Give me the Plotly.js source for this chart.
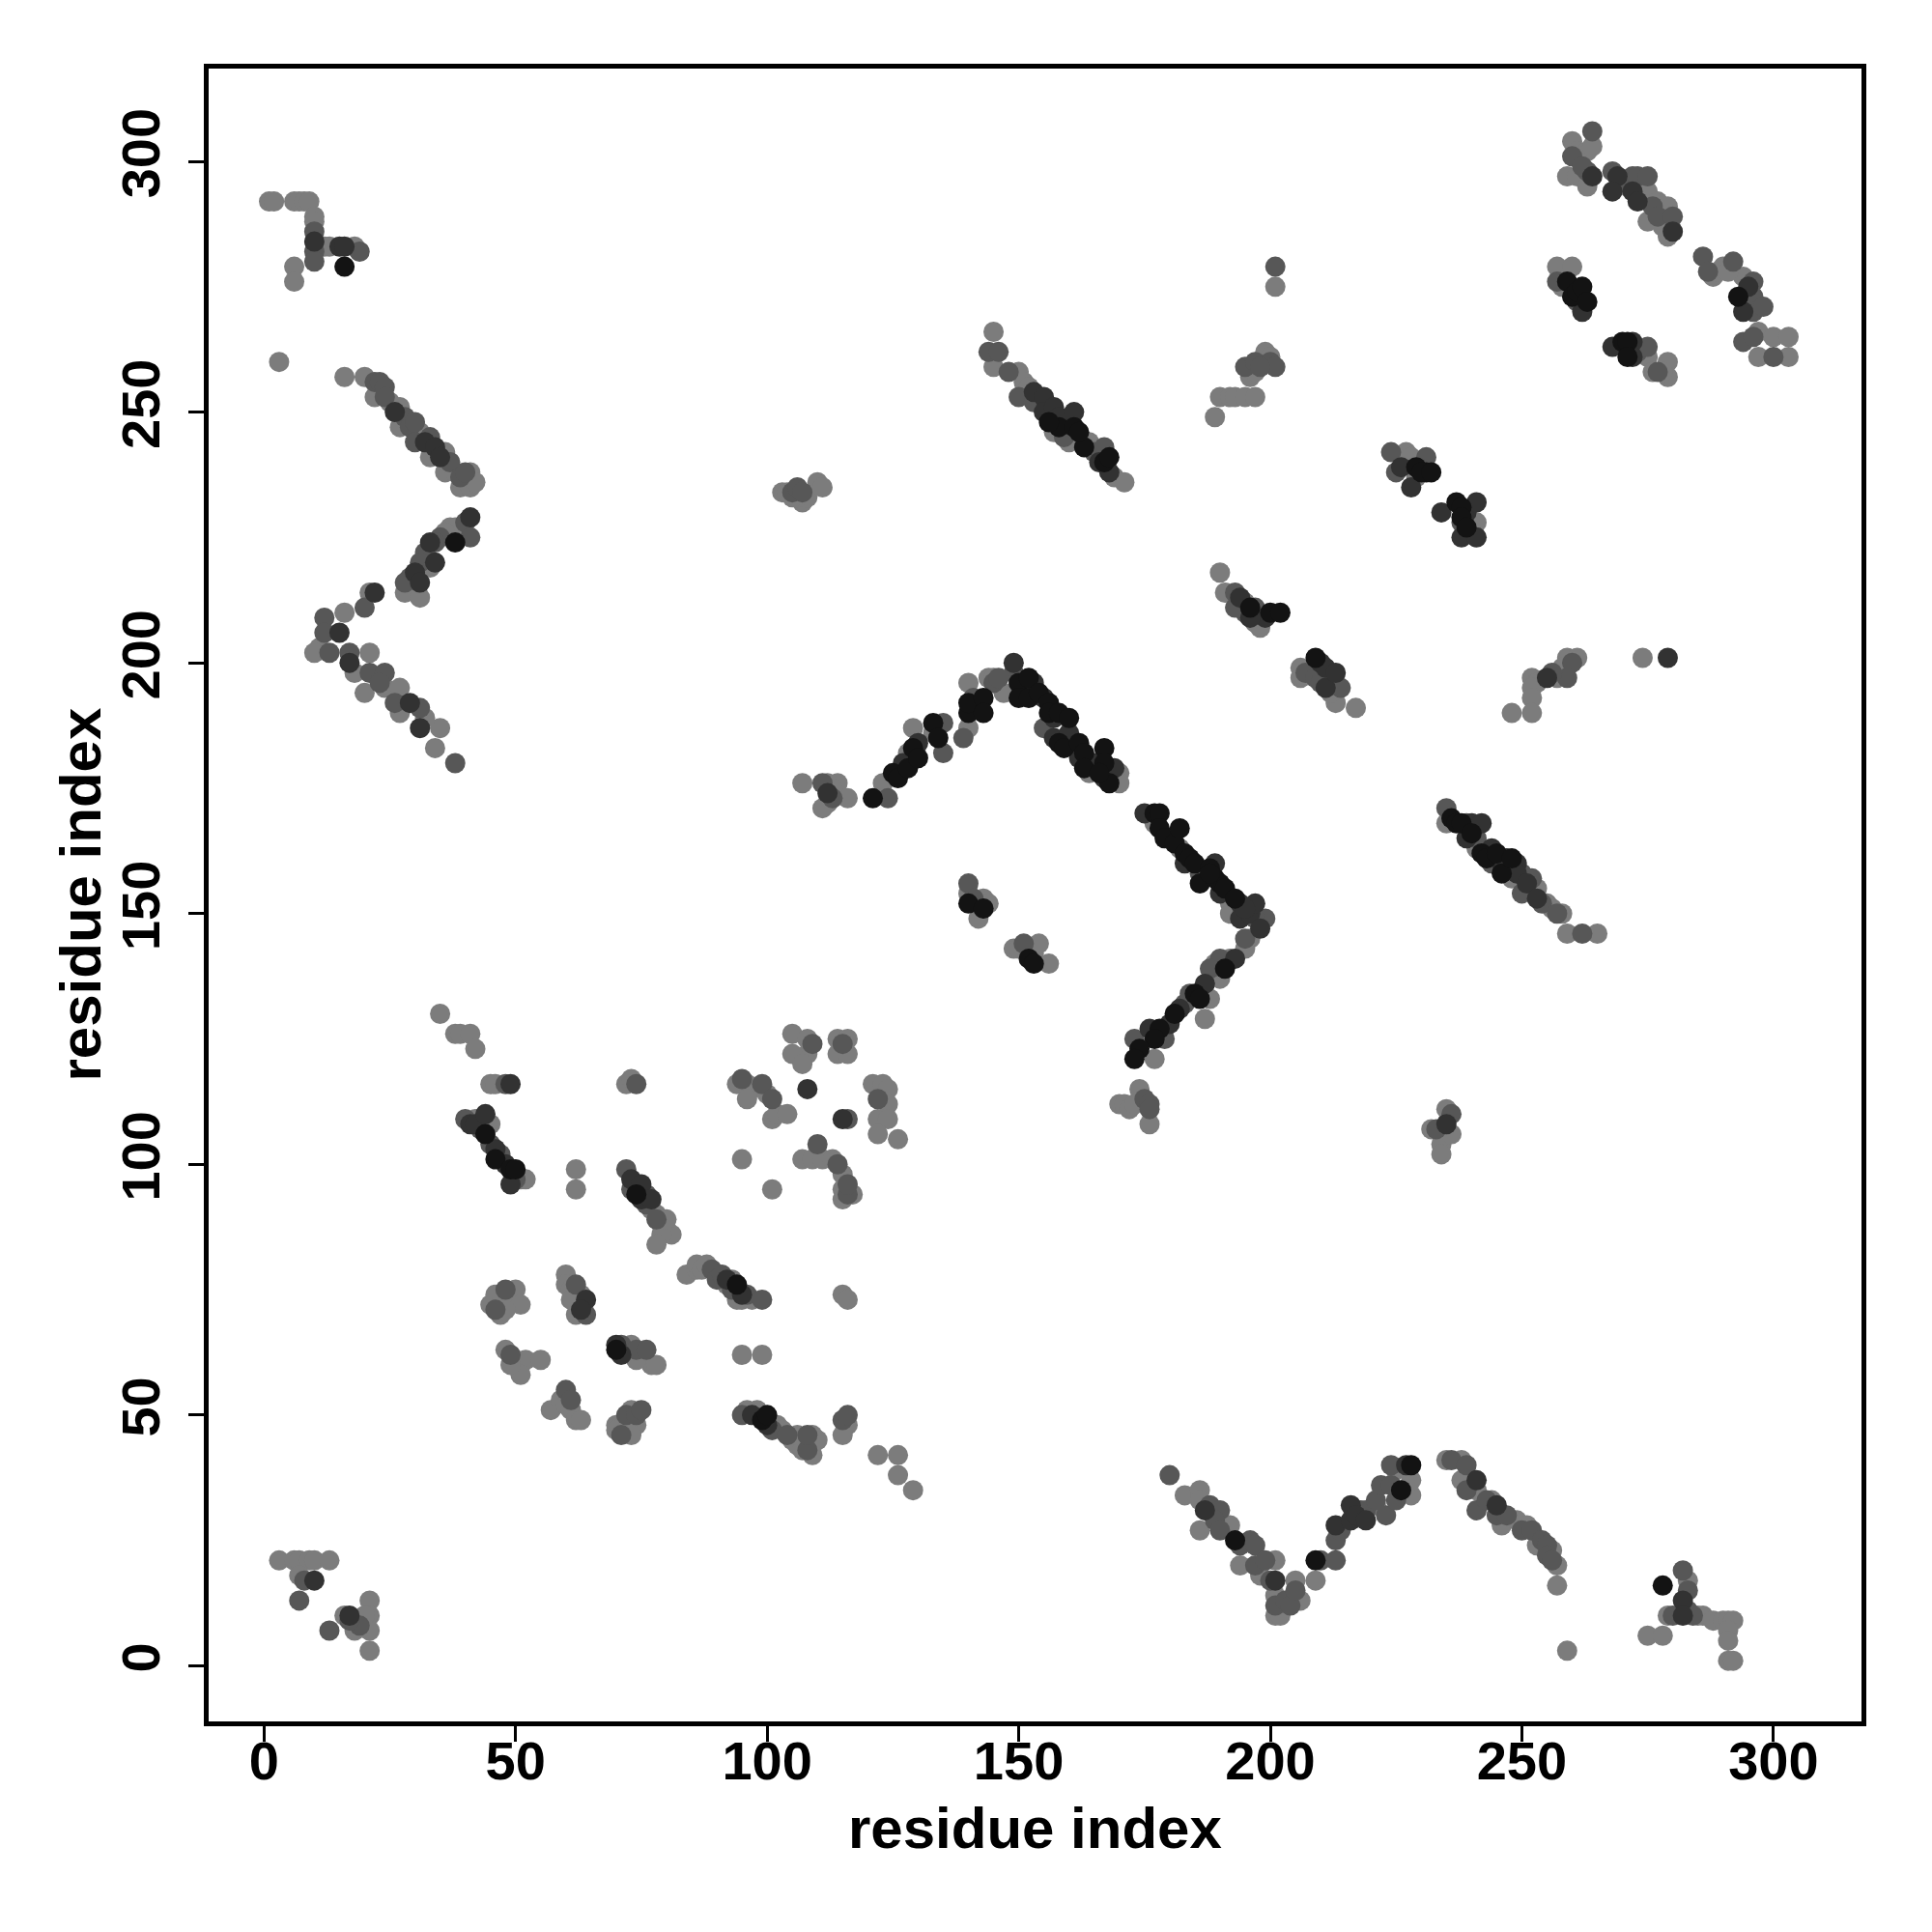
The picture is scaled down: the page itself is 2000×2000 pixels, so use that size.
<!DOCTYPE html>
<html>
<head>
<meta charset="utf-8">
<script src="https://cdn.plot.ly/plotly-3.0.1.min.js"></script>
<style>html,body{margin:0;padding:0;background:#fff;}</style>
</head>
<body>
<div id="chart" style="width:2000px;height:2000px;"></div>
<script>
// Contact map: residue index pairs, grouped by gray level of the dot
const lightPts = [
[1,292],[2,292],[6,292],[7,292],[8,292],[9,292],[10,289],[10,288],[12,283],[13,283],[18,283],[6,279],[6,276],[3,260],
[20,257],[22,253],[25,252],[27,251],[27,247],[31,246],[33,241],[36,242],[36,238],[38,238],[41,238],[39,235],[41,235],[42,236],[16,257],
[38,227],[37,227],[36,226],[33,219],[28,214],[31,213],
[21,214],[16,210],[11,203],[10,202],[21,202],[24,195],[20,194],[27,195],[27,190],[35,187],[34,183],[18,198],[32,189],
[35,130],[38,126],[39,126],[41,126],[42,123],[45,116],[46,116],[51,97],[52,97],[42,109],[45,108],
[45,72],[46,74],[47,72],[49,74],[50,75],[51,72],[47,70],[48,71],
[48,63],[50,61],[51,60],[52,61],[55,61],[51,58],[49,60],
[57,51],[59,53],[60,52],[61,51],[62,49],[63,49],
[60,78],[60,76],[61,75],[63,74],[62,70],[61,73],[62,99],[62,95],
[72,63],[73,64],[75,62],[77,60],[78,60],[74,61],
[70,48],[70,47],[72,47],[73,51],[74,48],[73,46],
[72,116],[73,117],
[77,91],[78,90],[79,88],[80,87],[81,86],[79,86],[78,84],[80,89],
[84,78],[86,79],[86,80],[87,79],[88,80],[90,78],[92,76],[95,73],[97,73],[94,73],[93,77],
[95,62],[99,62],
[96,51],[98,51],[102,48],[103,47],[105,45],[106,44],[107,43],[109,42],[109,46],[106,46],[110,45],
[116,48],[115,46],[115,74],[116,73],[122,42],[126,42],[126,38],[129,35],
[94,116],[96,116],[97,115],[96,113],[100,114],[101,109],[102,110],[104,110],[95,101],[101,95],[105,126],[108,125],[108,122],[105,122],[107,120],[114,125],[116,125],[114,122],[116,122],[107,101],[109,101],[111,101],[113,101],[115,98],[115,95],[115,93],[121,116],[123,116],[124,115],[124,112],[122,109],[124,109],[122,106],[126,105],[117,94],
[3,21],[6,21],[7,21],[9,21],[10,21],[13,21],[7,18],[16,10],[18,7],[21,13],[21,10],[21,7],[21,3],[20,10],
[103,234],[104,234],[107,232],[108,233],[110,236],[111,235],[106,233],[105,233],
[107,176],[112,176],[114,176],[112,172],[111,171],[116,173],[113,175],
[123,176],[128,182],[129,187],[133,186],[140,187],[144,197],[149,194],[147,194],[140,196],[145,197],
[161,183],[164,178],[170,178],[170,176],
[177,168],[182,163],[192,152],[192,150],
[196,145],[195,143],[192,141],[189,140],[188,133],[187,129],[177,121],[190,137],
[170,112],[171,112],[172,111],[174,115],[176,108],[173,112],
[140,154],[143,153],[142,149],[144,152],
[149,143],[150,143],[153,142],[154,144],[156,140],
[145,266],[145,259],[150,258],[151,256],[160,244],[164,244],[169,237],[171,236],[152,255],[157,246],
[189,249],[190,253],[192,253],[193,253],[195,253],[197,253],[196,257],[197,258],[199,262],[200,261],[201,275],
[190,218],[191,214],[195,212],[197,208],[198,207],
[206,199],[206,197],[213,192],[217,191],[212,194],
[227,242],[228,241],[229,237],
[241,228],
[259,201],[261,201],[258,199],[257,197],[252,197],[253,196],[252,195],[252,193],[252,190],[248,190],[274,201],
[235,168],[241,163],[253,155],[255,152],[256,151],[258,150],[259,146],[265,146],[248,157],
[232,107],[234,106],[234,104],[234,102],[235,111],[236,106],
[183,34],[186,35],[186,33],[186,27],[192,28],[194,20],[198,18],[201,21],[201,14],[201,10],[202,10],[205,17],[206,13],
[209,17],[221,32],[225,39],[228,34],[228,37],
[235,41],[238,41],[238,37],[240,37],[241,35],[244,33],[246,28],[249,29],[251,28],[253,24],[257,20],[257,16],[256,23],
[283,17],[279,10],[285,10],[286,10],[288,9],[290,9],[291,9],[292,9],[291,7],[291,5],[291,1],[292,1],[275,6],[278,6],[259,3],
[260,304],[261,302],[263,302],[264,303],[259,297],[261,297],[263,295],
[275,294],[277,292],[279,291],[275,288],[279,285],[278,287],[271,295],
[288,277],[289,278],[290,279],[294,277],[297,266],[300,265],[303,265],[297,261],[303,261],[291,278],[295,272],
[257,279],[260,279],[258,275],
[275,261],[276,258],[279,260],[279,257],[278,258]
];
const midPts = [
[10,286],[10,282],[10,280],[19,282],
[22,256],[23,256],[24,255],[24,253],[28,249],[29,247],[30,248],[30,244],[33,245],[37,240],[39,237],[40,238],
[40,228],[41,225],[35,225],[34,224],[32,222],[31,220],[29,217],[28,216],
[20,211],[12,209],[12,206],[13,202],[17,202],[21,198],[24,198],[31,191],[38,180],[23,196],[26,192],
[48,116],[40,109],[43,107],[45,104],[47,102],[50,97],
[46,71],[48,75],[49,62],[60,55],[61,53],[62,76],[64,70],
[71,64],[74,63],[76,63],[71,46],[72,50],[74,50],[75,51],[74,116],
[72,99],[73,95],[76,92],[78,89],[76,94],
[89,79],[90,77],[91,78],[93,75],[96,74],[99,73],
[95,50],[101,47],[104,46],[108,43],[108,46],[115,49],[116,50],
[95,117],[99,116],[101,113],[109,124],[115,124],[110,104],[114,100],[116,94],[116,96],[116,109],[122,113],
[8,17],[7,13],[13,7],[19,8],[17,9],
[105,234],[106,235],[107,234],[111,176],[113,173],
[124,173],[135,188],[135,182],[139,185],[141,193],[145,196],[149,198],[146,197],
[155,187],[186,158],[199,149],
[190,141],[188,139],[179,125],[173,125],[183,132],[184,134],[197,149],[195,145],
[175,113],[176,112],[176,111],[140,156],[141,153],[151,144],
[144,262],[146,262],[148,258],[150,253],[153,252],[159,245],[165,242],[167,243],
[195,259],[197,260],[200,260],[201,259],[198,259],[201,279],
[193,214],[195,210],[197,211],[193,211],
[207,198],[209,197],[210,196],[212,197],[214,195],
[224,242],[225,238],[231,241],[238,228],
[260,200],[259,197],[256,198],
[235,171],[239,168],[241,165],[250,158],[252,157],[254,152],[257,150],[262,146],[244,160],[250,154],
[233,107],[236,110],
[180,38],[188,32],[190,31],[189,29],[190,27],[194,24],[196,25],[197,24],[197,20],[199,21],[200,17],[201,12],[203,13],[204,12],[205,15],
[210,21],[213,21],[213,25],[214,27],[218,31],[219,31],[221,33],[222,36],[224,36],[223,30],[224,40],[225,33],
[236,41],[239,40],[239,35],[241,31],[243,33],[245,30],[247,30],[250,27],[252,27],[254,25],[255,24],[255,22],[256,21],
[282,19],[283,15],[280,10],[283,11],[284,10],
[264,306],[260,301],[263,298],[262,299],
[268,298],[270,296],[272,297],[273,297],[275,297],[276,291],[277,289],[280,289],
[286,281],[287,278],[292,280],[296,276],[296,273],[296,270],[298,271],[294,264],[296,265],[300,261],
[257,276],[261,272],[273,262],[275,263],[277,258]
];
const darkPts = [
[10,284],[15,283],[16,283],
[26,250],[32,244],[34,243],[35,241],
[41,229],[33,224],[34,220],[30,218],[31,216],
[22,214],[17,200],[31,187],[15,206],[29,192],
[49,116],[41,108],[42,108],[44,110],[46,103],[48,100],[49,96],
[64,73],[63,71],[70,64],[71,62],
[73,97],[75,96],[75,93],[77,93],[92,77],[95,74],
[97,50],[100,48],[108,115],[115,109],
[10,17],[17,10],[112,174],
[127,180],[130,184],[149,200],
[153,196],[155,193],[157,189],[157,185],[162,181],[165,180],[167,177],[169,179],[160,186],
[175,170],[180,165],[183,160],[189,160],[190,154],[194,152],[194,149],[196,150],[197,152],[195,151],
[193,141],[187,136],[182,131],[180,128],[176,127],[198,147],
[153,254],[155,253],[155,250],[157,251],[158,249],[161,250],[168,238],[166,240],
[194,213],[199,209],[196,209],
[210,200],[211,199],[211,195],[213,198],
[226,239],[228,235],
[234,230],[238,225],[239,230],[241,232],[241,225],
[255,197],[279,201],
[240,168],[242,168],[239,165],[244,163],[246,160],[247,161],[249,160],[249,158],[251,156],[253,153],
[235,108],
[187,31],[201,17],
[213,28],[216,29],[216,32],[217,30],[227,40],[219,29],
[241,37],[245,32],
[282,13],[282,10],
[264,297],
[269,297],[268,294],[272,294],[273,292],[280,286],
[295,275],[294,270],[262,270],
[268,263],[272,264],[272,261]
];
const blackPts = [
[16,279],[38,224],
[44,106],[46,101],[49,99],[50,99],[70,63],[74,94],[94,76],[99,49],[100,50],
[121,173],[125,178],[126,177],[128,179],[129,183],[130,181],[133,188],[134,185],[140,190],[140,192],[143,193],[143,190],[150,196],[150,193],
[152,197],[152,193],[154,194],[156,192],[156,190],[158,190],[160,189],[158,184],[159,183],[162,184],[163,182],[163,179],[167,183],[167,180],[168,176],[166,178],
[177,170],[178,170],[178,167],[179,165],[181,164],[182,167],[183,162],[184,161],[185,160],[186,156],[188,159],[189,157],[190,156],[191,155],[193,153],[188,158],
[185,134],[186,133],[181,130],[178,127],[177,125],[174,123],[173,121],[191,139],
[140,152],[143,151],[152,141],[153,140],
[158,247],[161,247],[163,243],[167,240],[168,241],[156,248],[162,246],
[196,211],[200,210],[202,210],[209,201],
[229,239],[231,238],[230,238],[232,238],
[237,232],[238,231],[238,229],[239,227],
[236,169],[237,168],[238,168],[240,166],[242,162],[243,161],[245,162],[246,158],[248,161],
[193,25],[209,21],[228,40],[226,35],
[278,16],[293,273],
[259,276],[260,273],[261,274],[262,275],[263,272],
[270,264],[271,264],[271,261]
];
const groups = [
  {name:'light', pts: lightPts, color:'#7c7c7c'},
  {name:'mid',   pts: midPts,   color:'#575757'},
  {name:'dark',  pts: darkPts,  color:'#323232'},
  {name:'black', pts: blackPts, color:'#131313'}
];
const tickValues = [0,50,100,150,200,250,300];
const axisLabel = 'residue index';

const traces = groups.map(g => ({
  type:'scatter', mode:'markers', name:g.name,
  x: g.pts.map(p => p[0]), y: g.pts.map(p => p[1]),
  marker:{size:21, color:g.color, line:{width:0}},
  hoverinfo:'x+y'
}));

const fontFam = 'Liberation Sans, Arial, Helvetica, sans-serif';
const axisCommon = {
  tickvals: tickValues, ticktext: tickValues.map(String),
  ticks:'outside', ticklen:16, tickwidth:3, tickcolor:'#000',
  showgrid:false, zeroline:false, showline:true, mirror:true,
  linewidth:5, linecolor:'#000', automargin:false,
  tickfont:{family:fontFam, size:56, color:'#000', weight:'bold'}
};
const titleFont = {family:fontFam, size:60, color:'#000', weight:'bold'};
const layout = {
  width:2000, height:2000,
  margin:{l:216, r:73, t:71, b:218, pad:0},
  paper_bgcolor:'#fff', plot_bgcolor:'#fff',
  showlegend:false,
  font:{family:fontFam, color:'#000'},
  xaxis: Object.assign({}, axisCommon, {range:[-11, 317.5], ticklabelstandoff:-28}),
  yaxis: Object.assign({}, axisCommon, {range:[-11.1, 318.5], tickangle:-90, ticklabelstandoff:8}),
  annotations:[
    {text:axisLabel, xref:'paper', yref:'paper', x:0.5, y:0, xanchor:'center', yanchor:'middle',
     yshift:-110, showarrow:false, font:titleFont},
    {text:axisLabel, xref:'paper', yref:'paper', x:0, y:0.5, xanchor:'center', yanchor:'middle',
     xshift:-133, textangle:-90, showarrow:false, font:titleFont}
  ]
};
Plotly.newPlot('chart', traces, layout, {staticPlot:true, displayModeBar:false});
</script>
</body>
</html>
